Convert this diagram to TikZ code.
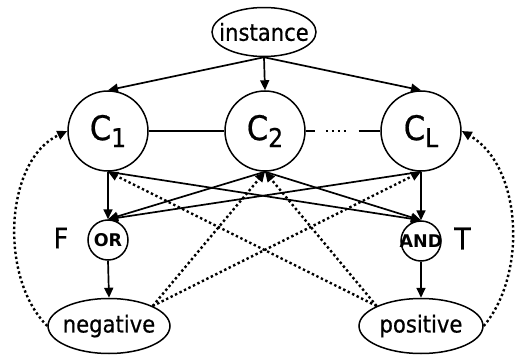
\documentclass[tikz,border=0pt]{standalone}
\usepackage{fontspec}
\setmainfont{DejaVu Sans Condensed}[FakeBold=0.6]
\newfontfamily\opfont{DejaVu Sans}
\usetikzlibrary{arrows.meta,shapes.geometric}
\newcommand\csub[1]{\raisebox{-7pt}{\fontsize{26}{26}\selectfont #1}}
\begin{document}
\begin{tikzpicture}[x=1pt,y=1pt,
  shp/.style={draw,line width=1.5pt,inner sep=0pt},
  cnode/.style={shp,circle,minimum size=80pt,font=\fontsize{34}{34}\selectfont},
  opnode/.style={shp,circle,minimum size=40pt},
  elnode/.style={shp,ellipse},
  lbl/.style={font=\fontsize{23.5}{24}\selectfont,inner sep=0pt},
  oplbl/.style={font=\opfont\bfseries\fontsize{17.5}{18}\selectfont,inner sep=0pt},
  arr/.style={line width=1.7pt,-{Triangle[length=10pt,width=9pt]}},
  dotarr/.style={line width=2.4pt,dash pattern=on 2.4pt off 2.6pt,-{Triangle[length=10pt,width=9pt]}},
  link/.style={line width=1.7pt}
]
\useasboundingbox (0,0) rectangle (515,360);
% nodes
\node[elnode,minimum width=104pt,minimum height=49pt,label={[lbl]center:instance}] (inst) at (264,328) {};
\node[cnode] (C1) at (108,229) {C\csub{1}};
\node[cnode] (C2) at (265,229) {C\csub{2}};
\node[cnode] (CL) at (421,229) {C\csub{L}};
\node[opnode,label={[oplbl]center:OR}] (OR) at (108,120) {};
\node[opnode,label={[oplbl]center:AND}] (AND) at (421,119) {};
\node[font=\fontsize{28}{28}\selectfont,inner sep=0pt] (F) at (61,122) {F};
\node[font=\fontsize{30}{30}\selectfont,inner sep=0pt] (T) at (462.5,121.5) {T};
\node[elnode,minimum width=122pt,minimum height=55pt,label={[lbl]center:negative}] (neg) at (109,34) {};
\node[elnode,minimum width=124pt,minimum height=55pt,label={[lbl]center:positive}] (pos) at (421,34) {};
% instance arrows
\draw[arr] (inst.south) -- (C1.north);
\draw[arr] (inst.south) -- (C2.north);
\draw[arr] (inst.south) -- (CL.north);
% C links
\draw[link] (C1.east) -- (C2.west);
\path (C2.east) -- (CL.west)
  coordinate[pos=0.13] (g1) coordinate[pos=0.27] (d1)
  coordinate[pos=0.54] (d2) coordinate[pos=0.71] (g2);
\draw[link] (C2.east) -- (g1);
\draw[line width=1.7pt,dash pattern=on 2pt off 4pt] (d1) -- (d2);
\draw[link] (g2) -- (CL.west);
% to OR / AND
\foreach \c in {C1,C2,CL}{
  \draw[arr] (\c.south) -- (OR.north);
  \draw[arr] (\c.south) -- (AND.north);
}
\draw[arr] (OR.south) -- (neg.north);
\draw[arr] (AND.south) -- (pos.north);
% dotted feedback
\draw[dotarr] (neg.north east) -- (C2.south);
\draw[dotarr] (neg.north east) -- (CL.south);
\draw[dotarr] (pos.north west) -- (C1.south);
\draw[dotarr] (pos.north west) -- (C2.south);
\draw[dotarr] (neg.west) to[out=135,in=205,looseness=0.9] (C1.west);
\draw[dotarr] (pos.east) to[out=50,in=330,looseness=0.9] (CL.east);
\end{tikzpicture}
\end{document}
